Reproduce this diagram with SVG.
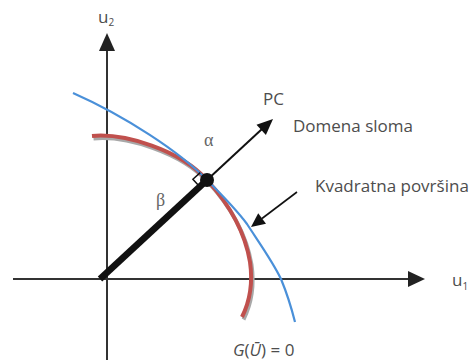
<svg xmlns="http://www.w3.org/2000/svg" width="475" height="363" viewBox="0 0 475 363">
<style>
.lbl{font-family:"Open Sans","Liberation Sans",sans-serif;font-size:17px;fill:#4d4d4d}
.greek{font-family:"Liberation Serif","DejaVu Serif",serif;font-size:18px;fill:#666}
.axis{stroke:#333;stroke-width:2;fill:none}
</style>
<rect width="475" height="363" fill="#fff"/>
<g id="axes">
  <line class="axis" x1="107" y1="360" x2="107" y2="48"/>
  <polygon points="107,33 99,51 115,51" fill="#222"/>
  <line class="axis" x1="13" y1="279" x2="410" y2="279"/>
  <polygon points="425,279 408,271 408,287" fill="#222"/>
  <text class="lbl" x="98" y="23">u<tspan font-size="10" dy="3">2</tspan></text>
  <text class="lbl" x="452" y="286">u<tspan font-size="10" dy="4">1</tspan></text>
</g>
<g id="curves">
  <path id="red-shadow" d="M92,136 C125,133 180,150 207,180 C228,203 245,232 250,262 C253,283 249,303 242,317" transform="translate(1.5,2.5)" stroke="#a8a8a8" stroke-width="4" fill="none"/>
  <path id="red-surface" d="M92,136 C125,133 180,150 207,180 C228,203 245,232 250,262 C253,283 249,303 242,317" stroke="#c0504d" stroke-width="4" fill="none"/>
  <path id="blue-surface" d="M73,93 C125,116 180,152 207,180 C222,195 236,209 247,224 C260,244 273,262 281,279 C288,296 292,310 295,322" stroke="#4a90d9" stroke-width="2.2" fill="none"/>
</g>
<g id="vectors">
  <line x1="100" y1="279" x2="207" y2="180" stroke="#111" stroke-width="6.5"/>
  <line x1="207" y1="180" x2="262" y2="129" stroke="#111" stroke-width="2"/>
  <polygon points="273,119 265.9,134.9 256.5,124.7" fill="#111"/>
  <polyline points="200.2,172.6 192.9,179.3 199.7,186.8" fill="none" stroke="#111" stroke-width="1.5"/>
  <circle cx="207" cy="180" r="7" fill="#111"/>
</g>
<g id="pointer">
  <line x1="297" y1="192" x2="262" y2="218.5" stroke="#111" stroke-width="1.6"/>
  <polygon points="251,227 266,223.7 258.2,213.3" fill="#111"/>
</g>
<g id="labels">
  <text class="lbl" x="263" y="105">PC</text>
  <text class="lbl" x="293" y="132">Domena sloma</text>
  <text class="lbl" x="315" y="192">Kvadratna površina</text>
  <text class="greek" x="204" y="146">α</text>
  <text class="greek" x="156" y="206">β</text>
  <text class="lbl" x="233" y="356"><tspan font-style="italic">G</tspan>(<tspan font-style="italic">Ū</tspan>) = 0</text>
</g>
</svg>
